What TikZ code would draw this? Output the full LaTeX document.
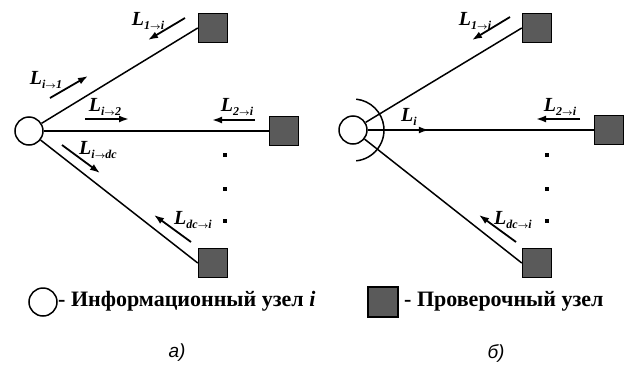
\documentclass[tikz,border=0pt]{standalone}
\usepackage{fontspec}
\setmainfont{Liberation Serif}
\newfontfamily\capfont{Liberation Sans}
\usetikzlibrary{arrows.meta,decorations.markings}
\definecolor{sqgray}{HTML}{5A5A5A}
\newcommand{\sarr}{{\fontsize{9}{9}\selectfont\boldmath$\rightarrow$}}
\newcommand{\Lab}[1]{\textbf{\textit{L}}\raisebox{-4pt}{\fontsize{12}{12}\selectfont\textbf{\textit{#1}}}}
\begin{document}
\begin{tikzpicture}[x=1pt,y=-1pt,
  vnode/.style={circle,draw,line width=1.5pt,minimum size=28pt,inner sep=0pt,fill=white},
  cnode/.style={rectangle,draw,line width=1.5pt,fill=sqgray,minimum size=29pt,inner sep=0pt},
  link/.style={line width=1.5pt},
  msg/.style={line width=1.8pt,-{Latex[length=10pt,width=7pt]}},
  lab/.style={inner sep=0pt,font=\fontsize{20}{20}\selectfont},
  dotm/.style={rectangle,fill=black,minimum size=4.5pt,inner sep=0pt},
  legtext/.style={inner sep=0pt,anchor=west,font=\bfseries\fontsize{22}{22}\selectfont},
  captext/.style={inner sep=0pt,font=\capfont\itshape\fontsize{19}{19}\selectfont}]
\useasboundingbox (0,0) rectangle (634,367);

% ---------- panel a ----------
\node[vnode] (c1) at (29,131) {};
\node[cnode] (s1) at (213,28) {};
\node[cnode] (s2) at (284,131) {};
\node[cnode] (s3) at (213,263) {};
\draw[link] (c1) -- (s1.west);
\draw[link] (c1) -- (s2.west);
\draw[link] (c1) -- (s3.west);
\node[dotm] (d1) at (225,155) {};
\node[dotm] (d2) at (225,189) {};
\node[dotm] (d3) at (225,221) {};

\coordinate (a1s) at (185,18);  \coordinate (a1e) at (148,40);
\coordinate (a2s) at (50,98);   \coordinate (a2e) at (88,76);
\coordinate (a3s) at (85,119);  \coordinate (a3e) at (129,119);
\coordinate (a4s) at (255,120); \coordinate (a4e) at (212,120);
\coordinate (a5s) at (62,145);  \coordinate (a5e) at (100,173);
\coordinate (a6s) at (191,242); \coordinate (a6e) at (154,215);
\draw[msg] (a1s) -- (a1e);
\draw[msg] (a2s) -- (a2e);
\draw[msg] (a3s) -- (a3e);
\draw[msg] (a4s) -- (a4e);
\draw[msg] (a5s) -- (a5e);
\draw[msg] (a6s) -- (a6e);
\node[lab] (l1) at (148,21) {\Lab{1\sarr i}};
\node[lab] (l2) at (46,80) {\Lab{i\sarr 1}};
\node[lab] (l3) at (105,107) {\Lab{i\sarr 2}};
\node[lab] (l4) at (237,107) {\Lab{2\sarr i}};
\node[lab] (l5) at (98,150) {\Lab{i\sarr dc}};
\node[lab] (l6) at (193,220) {\Lab{dc\sarr i}};

% ---------- panel b ----------
\node[vnode] (c2) at (353,130) {};
\node[cnode] (t1) at (537,28) {};
\node[cnode] (t2) at (609,130) {};
\node[cnode] (t3) at (537,263) {};
\draw[link] (c2) -- (t1.west);
\draw[link,postaction={decorate},decoration={markings,
  mark=at position 0.27 with {\arrow{Latex[length=10pt,width=7pt]}}}] (c2) -- (t2.west);
\draw[link] (c2) -- (t3.west);
\draw[link] ([shift={(84:31)}]c2.center) arc[start angle=84,end angle=-84,radius=31];
\node[dotm] (e1) at (547,155) {};
\node[dotm] (e2) at (547,189) {};
\node[dotm] (e3) at (547,221) {};

\coordinate (b1s) at (510,17);  \coordinate (b1e) at (472,40);
\coordinate (b2s) at (580,119); \coordinate (b2e) at (536,119);
\coordinate (b3s) at (516,242); \coordinate (b3e) at (479,215);
\draw[msg] (b1s) -- (b1e);
\draw[msg] (b2s) -- (b2e);
\draw[msg] (b3s) -- (b3e);
\node[lab] (m1) at (475,21) {\Lab{1\sarr i}};
\node[lab] (m2) at (409,117) {\Lab{i}};
\node[lab] (m3) at (560,107) {\Lab{2\sarr i}};
\node[lab] (m4) at (513,220) {\Lab{dc\sarr i}};

% ---------- legend ----------
\node[vnode] (lc) at (43,302) {};
\node[legtext] (lt1) at (58,301) {- Информационный узел \textit{i}};
\node[cnode,minimum size=30pt] (ls) at (383,302) {};
\node[legtext] (lt2) at (404,301) {- Проверочный узел};

\node[captext] (ca) at (177,353) {а)};
\node[captext] (cb) at (496,353) {б)};
\end{tikzpicture}
\end{document}
